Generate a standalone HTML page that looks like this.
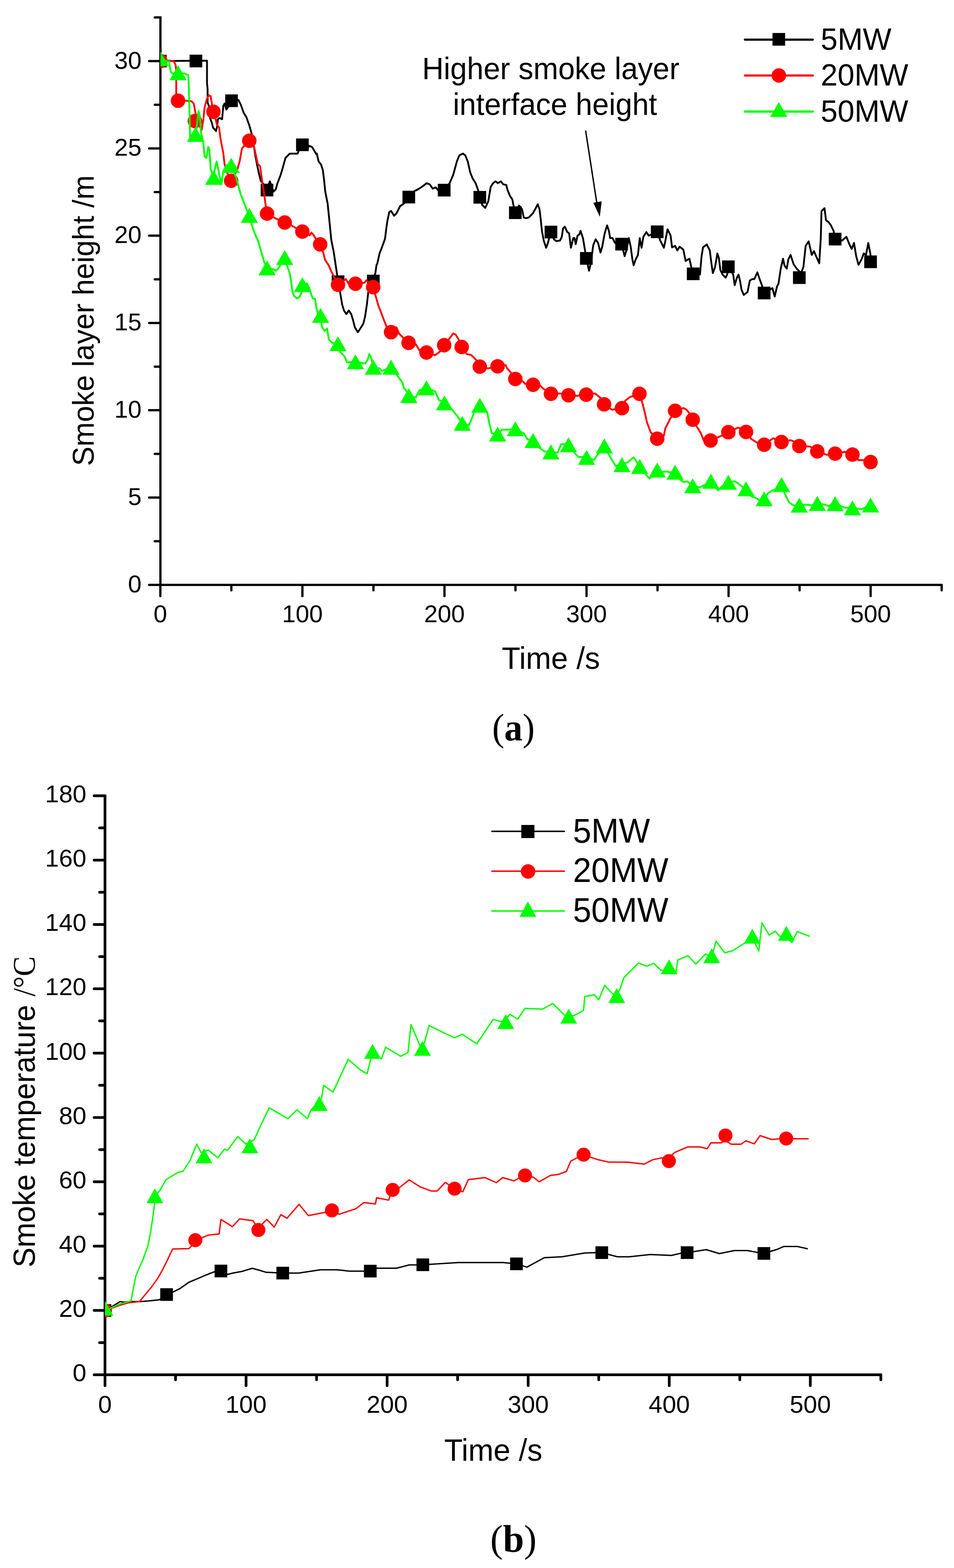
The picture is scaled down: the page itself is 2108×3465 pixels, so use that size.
<!DOCTYPE html><html><head><meta charset="utf-8"><title>Smoke layer height and temperature</title><style>html,body{margin:0;padding:0;background:#fff}svg{display:block}text{font-family:"Liberation Sans",Arial,sans-serif;fill:#000}.serif{font-family:"Liberation Serif","Times New Roman",serif}</style></head><body>
<svg width="2108" height="3465" viewBox="0 0 2108 3465">
<rect width="2108" height="3465" fill="#fff"/>
<defs><clipPath id="ca"><rect x="354.3" y="0" width="1800" height="1292"/></clipPath><clipPath id="cb"><rect x="232" y="1700" width="1800" height="1338"/></clipPath></defs>
<g id="plot-a">
<g stroke="#000" stroke-width="5" fill="none" stroke-linecap="round">
<path d="M354.5,38.5 V1292.4 H2078.5" stroke-linecap="square"/>
<line x1="329.5" y1="1292.4" x2="354.5" y2="1292.4"/>
<line x1="342.0" y1="1196.0" x2="354.5" y2="1196.0"/>
<line x1="329.5" y1="1099.5" x2="354.5" y2="1099.5"/>
<line x1="342.0" y1="1003.1" x2="354.5" y2="1003.1"/>
<line x1="329.5" y1="906.6" x2="354.5" y2="906.6"/>
<line x1="342.0" y1="810.2" x2="354.5" y2="810.2"/>
<line x1="329.5" y1="713.7" x2="354.5" y2="713.7"/>
<line x1="342.0" y1="617.3" x2="354.5" y2="617.3"/>
<line x1="329.5" y1="520.8" x2="354.5" y2="520.8"/>
<line x1="342.0" y1="424.4" x2="354.5" y2="424.4"/>
<line x1="329.5" y1="327.9" x2="354.5" y2="327.9"/>
<line x1="342.0" y1="231.5" x2="354.5" y2="231.5"/>
<line x1="329.5" y1="135.0" x2="354.5" y2="135.0"/>
<line x1="342.0" y1="38.6" x2="354.5" y2="38.6"/>
<line x1="354.3" y1="1292.4" x2="354.3" y2="1317.3"/>
<line x1="511.2" y1="1292.4" x2="511.2" y2="1304.5"/>
<line x1="668.2" y1="1292.4" x2="668.2" y2="1317.3"/>
<line x1="825.2" y1="1292.4" x2="825.2" y2="1304.5"/>
<line x1="982.1" y1="1292.4" x2="982.1" y2="1317.3"/>
<line x1="1139.0" y1="1292.4" x2="1139.0" y2="1304.5"/>
<line x1="1296.0" y1="1292.4" x2="1296.0" y2="1317.3"/>
<line x1="1452.9" y1="1292.4" x2="1452.9" y2="1304.5"/>
<line x1="1609.9" y1="1292.4" x2="1609.9" y2="1317.3"/>
<line x1="1766.8" y1="1292.4" x2="1766.8" y2="1304.5"/>
<line x1="1923.8" y1="1292.4" x2="1923.8" y2="1317.3"/>
<line x1="2080.8" y1="1292.4" x2="2080.8" y2="1304.5"/>
</g>
<g clip-path="url(#ca)">
<polyline fill="none" stroke-width="4" stroke-linejoin="round" stroke-linecap="round" stroke="#000000" points="354.3,135.0 457.4,134.0 457.4,183.4 458.7,196.7 458.7,226.1 461.4,234.1 464.1,260.8 468.1,271.5 470.8,282.1 477.4,289.6 480.1,276.8 481.4,263.4 485.4,260.8 490.8,263.4 493.4,234.1 496.1,228.8 500.1,242.1 504.1,236.8 510.8,223.4 526.8,220.8 532.1,231.4 538.8,250.1 544.1,258.1 550.8,276.8 556.1,295.5 560.1,316.8 564.1,343.5 568.2,364.8 572.2,383.5 576.2,399.5 582.8,407.5 589.5,418.2 596.2,400.9 600.2,410.2 604.2,423.6 609.5,418.2 612.2,407.5 620.2,386.2 624.2,372.9 630.9,348.8 640.2,339.5 657.5,339.5 660.2,332.8 668.2,319.5 678.9,330.2 682.9,322.2 689.6,324.8 698.9,340.8 700.0,339.4 704.0,356.7 709.3,363.4 713.3,375.4 716.0,396.8 718.7,423.4 724.0,450.1 726.7,476.8 729.4,503.5 732.0,530.2 737.4,556.9 741.4,583.6 745.4,610.2 749.4,631.6 752.0,648.7 756.0,672.7 760.0,686.1 765.4,694.1 770.7,686.1 776.1,694.1 780.1,707.4 784.1,723.4 790.7,734.1 796.1,726.1 802.7,715.4 806.7,699.4 810.7,672.7 813.4,648.7 817.4,619.4 824.9,618.0 829.4,603.4 832.1,584.7 833.4,583.6 838.8,559.5 844.1,546.2 850.8,527.5 853.4,506.2 856.1,487.5 860.1,468.8 864.1,466.1 870.8,476.8 876.1,471.5 884.1,455.5 892.1,450.1 903.3,435.5 916.1,422.1 924.1,418.1 932.2,412.8 942.8,404.8 949.5,407.4 956.2,416.8 962.8,414.1 968.2,420.8 981.5,420.2 993.5,404.8 1001.5,386.1 1009.5,356.7 1014.9,343.4 1022.9,339.4 1028.2,343.4 1033.6,356.7 1038.9,380.8 1044.2,394.1 1050.9,404.8 1057.6,423.4 1060.2,436.0 1065.6,452.8 1072.2,459.5 1078.9,444.8 1084.3,412.8 1089.6,404.8 1094.7,400.7 1100.0,404.7 1106.7,400.7 1112.0,407.4 1118.7,408.7 1121.4,419.4 1126.7,432.7 1132.0,440.7 1134.7,454.1 1138.7,470.1 1146.7,454.1 1153.4,462.1 1157.4,480.8 1162.7,482.1 1168.1,480.8 1172.1,476.8 1177.4,471.4 1182.7,462.1 1188.1,451.4 1192.1,462.1 1194.7,483.4 1197.4,510.1 1201.4,531.5 1206.8,547.5 1210.8,536.8 1216.1,515.4 1217.4,512.8 1224.1,528.8 1229.4,532.8 1237.4,531.5 1241.4,523.4 1244.1,504.8 1248.1,500.8 1253.4,512.8 1257.5,515.4 1261.5,547.5 1266.8,526.1 1269.5,526.1 1272.1,539.5 1276.1,520.8 1280.1,518.1 1282.8,510.1 1288.1,526.1 1293.5,558.1 1295.6,570.9 1301.5,598.2 1305.5,582.2 1310.8,542.1 1316.2,528.8 1321.5,536.8 1326.8,558.1 1330.8,544.8 1336.2,515.4 1341.5,498.1 1345.5,510.1 1348.2,526.1 1353.5,526.1 1358.9,536.8 1373.5,539.5 1380.2,566.1 1384.2,552.8 1389.5,526.1 1393.5,544.8 1397.5,574.1 1400.2,586.2 1404.2,574.1 1409.6,563.5 1413.6,526.1 1417.6,547.5 1421.6,523.4 1428.2,512.8 1433.6,520.8 1452.2,512.2 1458.9,531.5 1466.9,547.5 1470.0,533.4 1475.0,506.7 1481.7,520.1 1485.0,546.8 1491.7,543.4 1496.7,553.4 1501.7,545.1 1510.0,551.8 1515.0,576.8 1520.0,573.4 1523.4,571.8 1526.7,586.8 1531.7,605.1 1546.7,606.8 1550.1,566.8 1553.4,546.8 1561.7,540.1 1568.4,553.4 1571.7,580.1 1575.1,603.5 1580.1,590.1 1585.1,560.1 1588.4,570.1 1591.8,596.8 1596.8,606.8 1603.4,613.5 1606.8,606.8 1609.4,589.5 1620.1,606.8 1623.4,630.2 1628.4,613.5 1631.8,606.8 1635.1,620.1 1638.5,640.2 1643.5,651.8 1651.8,645.2 1656.8,620.1 1661.8,616.8 1666.8,616.8 1673.5,601.8 1678.5,616.8 1683.5,630.2 1688.5,647.5 1706.8,636.8 1711.8,655.2 1716.8,633.5 1720.2,626.8 1725.2,593.5 1730.2,571.8 1733.5,586.8 1738.5,593.5 1741.9,573.4 1746.9,563.4 1753.5,583.5 1760.2,593.5 1766.9,600.1 1766.2,613.5 1775.2,590.1 1780.2,543.4 1786.9,533.4 1793.6,563.4 1798.6,555.1 1803.6,566.8 1810.2,581.8 1813.6,526.8 1815.2,466.7 1821.9,460.0 1825.2,486.7 1830.2,490.1 1835.3,496.7 1841.9,510.1 1845.3,528.4 1860.3,531.8 1870.3,523.4 1876.9,540.1 1881.9,550.1 1887.0,536.8 1892.0,566.8 1897.0,585.1 1903.6,573.4 1908.6,560.1 1913.6,563.4 1918.6,536.8 1923.6,563.4 1923.6,578.5"/>
<rect x="340.3" y="121.0" width="28" height="28" fill="#000000"/>
<rect x="418.9" y="120.8" width="28" height="28" fill="#000000"/>
<rect x="497.6" y="208.6" width="28" height="28" fill="#000000"/>
<rect x="576.0" y="406.0" width="28" height="28" fill="#000000"/>
<rect x="654.2" y="306.0" width="28" height="28" fill="#000000"/>
<rect x="732.9" y="608.5" width="28" height="28" fill="#000000"/>
<rect x="810.9" y="607.0" width="28" height="28" fill="#000000"/>
<rect x="889.3" y="421.5" width="28" height="28" fill="#000000"/>
<rect x="967.5" y="406.2" width="28" height="28" fill="#000000"/>
<rect x="1046.2" y="422.0" width="28" height="28" fill="#000000"/>
<rect x="1124.7" y="456.1" width="28" height="28" fill="#000000"/>
<rect x="1203.4" y="498.8" width="28" height="28" fill="#000000"/>
<rect x="1281.6" y="557.0" width="28" height="28" fill="#000000"/>
<rect x="1359.5" y="525.5" width="28" height="28" fill="#000000"/>
<rect x="1438.2" y="498.2" width="28" height="28" fill="#000000"/>
<rect x="1517.7" y="591.1" width="28" height="28" fill="#000000"/>
<rect x="1595.4" y="575.5" width="28" height="28" fill="#000000"/>
<rect x="1674.5" y="633.5" width="28" height="28" fill="#000000"/>
<rect x="1752.2" y="599.5" width="28" height="28" fill="#000000"/>
<rect x="1831.3" y="514.4" width="28" height="28" fill="#000000"/>
<rect x="1909.6" y="564.5" width="28" height="28" fill="#000000"/>
<polyline fill="none" stroke-width="4" stroke-linejoin="round" stroke-linecap="round" stroke="#ff0000" points="354.3,135.0 372.0,134.0 384.0,135.4 388.0,143.4 389.4,156.7 389.4,207.4 393.4,222.6 409.4,222.6 422.7,223.4 428.1,228.8 432.1,250.1 434.7,268.8 440.1,276.8 445.4,287.5 449.4,263.4 452.1,236.8 457.4,218.1 461.4,210.1 465.4,212.7 468.1,228.8 470.8,247.4 476.1,260.8 478.8,274.1 484.1,282.1 486.8,303.5 490.8,324.8 493.4,338.2 496.1,362.2 500.1,378.2 510.8,399.5 524.1,375.5 529.5,356.8 534.8,327.5 550.8,310.9 561.5,324.8 565.5,343.5 569.5,362.2 574.8,367.5 578.8,396.9 582.8,423.6 585.5,442.2 589.5,471.6 590.1,472.0 604.1,480.1 616.1,486.1 629.1,491.7 644.1,498.1 654.1,504.1 668.1,511.7 684.1,520.1 688.1,514.1 692.1,518.1 698.1,528.1 707.6,540.1 714.2,558.1 718.2,574.1 726.2,586.1 732.2,600.1 738.2,612.1 746.8,629.8 764.0,616.7 770.7,627.4 785.4,627.4 805.4,624.7 809.4,619.4 814.7,624.7 824.6,634.9 830.8,656.7 836.1,675.4 841.4,688.8 849.4,710.1 854.8,723.4 864.1,734.1 876.1,723.4 881.5,736.8 892.1,747.5 902.8,757.6 918.8,760.8 926.8,774.1 942.3,779.0 961.5,784.8 972.2,776.8 981.5,762.7 993.5,747.5 1001.5,736.8 1006.9,739.5 1014.9,752.8 1020.2,766.7 1030.9,782.2 1041.6,784.8 1052.2,795.5 1060.2,810.2 1078.9,814.2 1097.6,808.8 1099.5,809.4 1117.4,806.7 1120.0,813.4 1129.4,824.0 1138.7,837.4 1154.7,842.7 1160.1,848.1 1177.9,850.2 1192.1,850.7 1200.1,858.7 1217.4,870.2 1237.4,869.4 1256.1,873.4 1274.8,874.7 1295.3,872.1 1314.8,869.4 1330.8,882.7 1334.8,893.4 1352.2,905.4 1374.3,902.0 1381.5,885.4 1392.2,877.4 1413.0,870.2 1418.9,888.1 1424.2,909.4 1429.6,933.4 1437.6,954.8 1452.2,969.5 1466.9,962.8 1470.0,946.8 1480.0,926.8 1491.7,907.7 1510.0,901.7 1516.7,905.1 1523.4,913.4 1530.7,927.4 1540.1,943.4 1548.4,956.8 1555.1,973.4 1570.1,973.4 1593.4,963.4 1609.4,955.1 1630.1,945.1 1636.8,946.8 1648.5,954.4 1660.1,970.1 1673.5,978.5 1688.5,982.8 1708.5,968.4 1726.8,976.8 1746.9,972.8 1753.5,975.1 1766.2,985.8 1790.2,986.8 1805.9,997.5 1826.9,1005.1 1845.3,1002.5 1866.9,998.5 1883.6,1004.5 1897.0,1016.8 1907.0,1016.8 1923.6,1021.1"/>
<circle cx="354.3" cy="135.0" r="16" fill="#ff0000"/>
<circle cx="393.4" cy="222.6" r="16" fill="#ff0000"/>
<circle cx="430.7" cy="267.5" r="16" fill="#ff0000"/>
<circle cx="471.6" cy="246.9" r="16" fill="#ff0000"/>
<circle cx="510.8" cy="399.5" r="16" fill="#ff0000"/>
<circle cx="550.8" cy="311.0" r="16" fill="#ff0000"/>
<circle cx="590.1" cy="472.0" r="16" fill="#ff0000"/>
<circle cx="629.1" cy="491.7" r="16" fill="#ff0000"/>
<circle cx="668.1" cy="511.7" r="16" fill="#ff0000"/>
<circle cx="707.5" cy="540.1" r="16" fill="#ff0000"/>
<circle cx="746.8" cy="629.3" r="16" fill="#ff0000"/>
<circle cx="785.4" cy="627.0" r="16" fill="#ff0000"/>
<circle cx="824.6" cy="634.6" r="16" fill="#ff0000"/>
<circle cx="864.1" cy="734.1" r="16" fill="#ff0000"/>
<circle cx="902.8" cy="757.6" r="16" fill="#ff0000"/>
<circle cx="942.3" cy="779.0" r="16" fill="#ff0000"/>
<circle cx="981.5" cy="762.7" r="16" fill="#ff0000"/>
<circle cx="1020.2" cy="766.7" r="16" fill="#ff0000"/>
<circle cx="1060.2" cy="810.2" r="16" fill="#ff0000"/>
<circle cx="1099.5" cy="809.4" r="16" fill="#ff0000"/>
<circle cx="1138.7" cy="837.4" r="16" fill="#ff0000"/>
<circle cx="1177.9" cy="850.2" r="16" fill="#ff0000"/>
<circle cx="1217.4" cy="870.2" r="16" fill="#ff0000"/>
<circle cx="1256.1" cy="873.4" r="16" fill="#ff0000"/>
<circle cx="1295.3" cy="872.1" r="16" fill="#ff0000"/>
<circle cx="1334.8" cy="893.4" r="16" fill="#ff0000"/>
<circle cx="1374.3" cy="902.0" r="16" fill="#ff0000"/>
<circle cx="1413.0" cy="870.2" r="16" fill="#ff0000"/>
<circle cx="1452.2" cy="969.5" r="16" fill="#ff0000"/>
<circle cx="1491.7" cy="907.7" r="16" fill="#ff0000"/>
<circle cx="1530.7" cy="927.4" r="16" fill="#ff0000"/>
<circle cx="1570.1" cy="973.4" r="16" fill="#ff0000"/>
<circle cx="1609.4" cy="955.1" r="16" fill="#ff0000"/>
<circle cx="1648.5" cy="954.4" r="16" fill="#ff0000"/>
<circle cx="1688.5" cy="982.8" r="16" fill="#ff0000"/>
<circle cx="1726.8" cy="976.8" r="16" fill="#ff0000"/>
<circle cx="1766.2" cy="985.8" r="16" fill="#ff0000"/>
<circle cx="1805.9" cy="997.5" r="16" fill="#ff0000"/>
<circle cx="1845.3" cy="1002.5" r="16" fill="#ff0000"/>
<circle cx="1883.6" cy="1004.5" r="16" fill="#ff0000"/>
<circle cx="1923.6" cy="1021.1" r="16" fill="#ff0000"/>
<polyline fill="none" stroke-width="4" stroke-linejoin="round" stroke-linecap="round" stroke="#00ff00" points="354.3,130.0 361.3,134.0 373.4,135.4 377.4,159.4 381.4,162.0 393.4,163.4 406.7,162.0 416.1,166.1 417.4,196.7 418.7,250.1 420.1,303.5 422.7,311.5 432.1,300.8 433.4,292.8 438.7,244.8 441.4,255.4 444.1,292.8 446.7,303.5 449.4,316.8 452.1,346.2 456.1,348.8 460.1,324.8 462.7,330.2 465.4,372.9 470.8,388.9 478.8,356.8 484.1,383.5 489.4,407.5 493.4,378.2 500.1,364.8 510.8,367.5 521.5,391.5 532.0,430.0 540.0,450.0 546.0,466.0 551.0,476.1 556.1,496.1 562.1,514.1 570.1,532.1 576.1,552.1 584.1,580.1 590.1,591.1 604.1,595.1 610.1,598.1 616.1,592.1 620.1,584.1 629.1,569.1 634.1,586.1 640.1,604.1 643.1,620.1 646.1,644.2 650.1,654.2 656.1,659.2 662.1,656.2 667.1,644.2 668.1,629.2 678.1,626.2 684.1,638.2 688.1,652.2 692.1,660.2 696.1,660.2 699.1,680.2 702.1,692.2 709.3,702.1 710.7,720.8 717.3,731.5 722.7,726.1 726.7,750.1 734.7,758.1 746.7,759.5 750.7,776.8 756.0,782.2 761.4,787.5 766.7,800.8 785.4,799.5 806.7,803.5 812.1,795.5 816.1,782.2 820.1,790.2 824.1,806.2 824.9,811.5 838.8,814.2 844.1,819.5 864.1,811.5 876.1,827.5 884.1,838.2 889.5,846.2 892.1,856.9 898.8,864.9 903.3,874.2 918.8,878.2 926.8,862.2 942.3,856.9 961.5,864.9 969.5,883.6 982.1,890.2 998.9,904.9 1009.5,918.2 1021.5,935.6 1036.2,939.6 1044.2,920.9 1049.6,904.9 1060.2,895.6 1076.3,910.2 1081.6,936.9 1086.7,957.5 1099.5,959.3 1109.4,949.5 1122.7,949.5 1138.7,947.6 1157.4,957.5 1165.4,970.8 1177.9,973.5 1192.1,989.5 1202.7,997.5 1217.4,998.8 1232.1,1000.2 1240.1,981.5 1245.4,981.5 1256.1,982.8 1269.5,1000.2 1277.5,1009.5 1296.1,1010.8 1312.2,1016.2 1320.2,1005.5 1335.4,985.5 1344.2,1002.8 1352.2,1016.2 1360.2,1029.5 1374.3,1026.8 1386.9,1021.5 1400.2,1010.8 1405.6,1018.8 1413.6,1030.8 1426.9,1048.2 1434.9,1057.5 1440.2,1053.5 1452.2,1038.9 1464.3,1042.9 1474.9,1041.5 1476.7,1043.5 1491.7,1043.5 1503.4,1060.2 1510.0,1065.2 1518.4,1063.5 1530.7,1073.5 1546.7,1076.9 1560.1,1070.2 1570.7,1063.5 1586.8,1083.5 1596.8,1073.5 1609.4,1065.8 1623.4,1063.5 1633.4,1070.2 1641.8,1076.9 1648.5,1080.2 1660.1,1096.9 1670.1,1100.2 1680.1,1106.9 1688.5,1102.2 1696.8,1090.2 1706.8,1083.5 1720.2,1081.9 1726.8,1070.8 1733.5,1090.2 1743.5,1110.2 1753.5,1116.9 1766.2,1116.2 1783.5,1115.2 1793.6,1116.9 1805.9,1112.5 1823.6,1115.2 1830.2,1118.5 1845.3,1112.9 1866.9,1121.9 1883.6,1122.2 1903.6,1125.2 1923.6,1115.9"/>
<polygon points="354.3,113.5 373.3,146.5 335.3,146.5" fill="#00ff00"/>
<polygon points="393.4,144.2 412.4,177.2 374.4,177.2" fill="#00ff00"/>
<polygon points="432.0,280.5 451.0,313.5 413.0,313.5" fill="#00ff00"/>
<polygon points="472.0,375.5 491.0,408.5 453.0,408.5" fill="#00ff00"/>
<polygon points="510.8,349.0 529.8,382.0 491.8,382.0" fill="#00ff00"/>
<polygon points="551.0,459.5 570.0,492.5 532.0,492.5" fill="#00ff00"/>
<polygon points="590.1,575.6 609.1,608.6 571.1,608.6" fill="#00ff00"/>
<polygon points="629.1,552.6 648.1,585.6 610.1,585.6" fill="#00ff00"/>
<polygon points="668.1,612.6 687.1,645.6 649.1,645.6" fill="#00ff00"/>
<polygon points="708.2,680.5 727.2,713.5 689.2,713.5" fill="#00ff00"/>
<polygon points="746.7,743.0 765.7,776.0 727.7,776.0" fill="#00ff00"/>
<polygon points="785.4,783.0 804.4,816.0 766.4,816.0" fill="#00ff00"/>
<polygon points="824.9,795.0 843.9,828.0 805.9,828.0" fill="#00ff00"/>
<polygon points="864.1,795.0 883.1,828.0 845.1,828.0" fill="#00ff00"/>
<polygon points="903.3,857.7 922.3,890.7 884.3,890.7" fill="#00ff00"/>
<polygon points="942.3,840.4 961.3,873.4 923.3,873.4" fill="#00ff00"/>
<polygon points="982.1,873.7 1001.1,906.7 963.1,906.7" fill="#00ff00"/>
<polygon points="1021.5,919.1 1040.5,952.1 1002.5,952.1" fill="#00ff00"/>
<polygon points="1060.2,879.1 1079.2,912.1 1041.2,912.1" fill="#00ff00"/>
<polygon points="1099.5,942.8 1118.5,975.8 1080.5,975.8" fill="#00ff00"/>
<polygon points="1138.7,931.1 1157.7,964.1 1119.7,964.1" fill="#00ff00"/>
<polygon points="1177.9,957.0 1196.9,990.0 1158.9,990.0" fill="#00ff00"/>
<polygon points="1217.4,982.3 1236.4,1015.3 1198.4,1015.3" fill="#00ff00"/>
<polygon points="1256.1,966.3 1275.1,999.3 1237.1,999.3" fill="#00ff00"/>
<polygon points="1296.1,994.3 1315.1,1027.3 1277.1,1027.3" fill="#00ff00"/>
<polygon points="1335.4,969.0 1354.4,1002.0 1316.4,1002.0" fill="#00ff00"/>
<polygon points="1374.3,1010.3 1393.3,1043.3 1355.3,1043.3" fill="#00ff00"/>
<polygon points="1413.5,1014.3 1432.5,1047.3 1394.5,1047.3" fill="#00ff00"/>
<polygon points="1452.2,1022.3 1471.2,1055.3 1433.2,1055.3" fill="#00ff00"/>
<polygon points="1491.7,1027.0 1510.7,1060.0 1472.7,1060.0" fill="#00ff00"/>
<polygon points="1530.7,1057.0 1549.7,1090.0 1511.7,1090.0" fill="#00ff00"/>
<polygon points="1570.7,1047.0 1589.7,1080.0 1551.7,1080.0" fill="#00ff00"/>
<polygon points="1609.4,1049.3 1628.4,1082.3 1590.4,1082.3" fill="#00ff00"/>
<polygon points="1648.5,1063.7 1667.5,1096.7 1629.5,1096.7" fill="#00ff00"/>
<polygon points="1688.5,1085.7 1707.5,1118.7 1669.5,1118.7" fill="#00ff00"/>
<polygon points="1726.8,1054.3 1745.8,1087.3 1707.8,1087.3" fill="#00ff00"/>
<polygon points="1766.2,1099.7 1785.2,1132.7 1747.2,1132.7" fill="#00ff00"/>
<polygon points="1805.9,1096.0 1824.9,1129.0 1786.9,1129.0" fill="#00ff00"/>
<polygon points="1845.3,1096.4 1864.3,1129.4 1826.3,1129.4" fill="#00ff00"/>
<polygon points="1883.6,1105.7 1902.6,1138.7 1864.6,1138.7" fill="#00ff00"/>
<polygon points="1923.6,1099.4 1942.6,1132.4 1904.6,1132.4" fill="#00ff00"/>
</g>
<g font-size="54">
<text x="312.8" y="1308.9" text-anchor="end">0</text>
<text x="312.8" y="1116.0" text-anchor="end">5</text>
<text x="312.8" y="923.1" text-anchor="end">10</text>
<text x="312.8" y="730.2" text-anchor="end">15</text>
<text x="312.8" y="537.3" text-anchor="end">20</text>
<text x="312.8" y="344.4" text-anchor="end">25</text>
<text x="312.8" y="151.5" text-anchor="end">30</text>
<text x="354.3" y="1375" text-anchor="middle">0</text>
<text x="668.2" y="1375" text-anchor="middle">100</text>
<text x="982.1" y="1375" text-anchor="middle">200</text>
<text x="1296.0" y="1375" text-anchor="middle">300</text>
<text x="1609.9" y="1375" text-anchor="middle">400</text>
<text x="1923.8" y="1375" text-anchor="middle">500</text>
</g>
<text transform="translate(1108.7,1478.0) scale(1,1.020)" font-size="67">Time /s</text>
<text transform="translate(206.6,1029.7) rotate(-90) scale(1,1.045)" font-size="64.6">Smoke layer height /m</text>
<text class="serif" transform="translate(1134.5,1636) scale(0.96,1)" font-size="84" text-anchor="middle">(<tspan font-weight="bold">a</tspan>)</text>
<g stroke-width="4.9" stroke-linecap="round">
<line x1="1646" y1="87.6" x2="1796" y2="87.6" stroke="#000000"/>
<line x1="1646" y1="166.9" x2="1796" y2="166.9" stroke="#ff0000"/>
<line x1="1646" y1="246.5" x2="1796" y2="246.5" stroke="#00ff00"/>
</g>
<rect x="1706.9" y="72.9" width="28" height="28" fill="#000000"/>
<circle cx="1721.0" cy="166.8" r="16" fill="#ff0000"/>
<polygon points="1720.9,225.5 1739.9,258.5 1701.9,258.5" fill="#00ff00"/>
<g font-size="67">
<text transform="translate(1813.5,110.0) scale(1,1.020)" font-size="67">5MW</text><text transform="translate(1813.5,189.0) scale(1,1.020)" font-size="67">20MW</text><text transform="translate(1813.5,269.0) scale(1,1.020)" font-size="67">50MW</text>
</g>
<text transform="translate(932.7,175.0) scale(1,1.030)" font-size="66">Higher smoke layer</text><text transform="translate(1000.7,253.5) scale(1,1.030)" font-size="66">interface height</text>
<line x1="1294" y1="288.5" x2="1318.5" y2="447" stroke="#000" stroke-width="3"/>
<polygon points="1311,448 1329.5,445 1325.4,479" fill="#000"/>
</g>
<g id="plot-b">
<g stroke="#000" stroke-width="6" fill="none" stroke-linecap="round">
<path d="M232,1759 V3038 H1945.6" stroke-linecap="square"/>
<line x1="208.0" y1="3038.0" x2="232" y2="3038.0"/>
<line x1="220.0" y1="2966.9" x2="232" y2="2966.9"/>
<line x1="208.0" y1="2895.8" x2="232" y2="2895.8"/>
<line x1="220.0" y1="2824.8" x2="232" y2="2824.8"/>
<line x1="208.0" y1="2753.7" x2="232" y2="2753.7"/>
<line x1="220.0" y1="2682.6" x2="232" y2="2682.6"/>
<line x1="208.0" y1="2611.5" x2="232" y2="2611.5"/>
<line x1="220.0" y1="2540.4" x2="232" y2="2540.4"/>
<line x1="208.0" y1="2469.4" x2="232" y2="2469.4"/>
<line x1="220.0" y1="2398.3" x2="232" y2="2398.3"/>
<line x1="208.0" y1="2327.2" x2="232" y2="2327.2"/>
<line x1="220.0" y1="2256.1" x2="232" y2="2256.1"/>
<line x1="208.0" y1="2185.0" x2="232" y2="2185.0"/>
<line x1="220.0" y1="2114.0" x2="232" y2="2114.0"/>
<line x1="208.0" y1="2042.9" x2="232" y2="2042.9"/>
<line x1="220.0" y1="1971.8" x2="232" y2="1971.8"/>
<line x1="208.0" y1="1900.7" x2="232" y2="1900.7"/>
<line x1="220.0" y1="1829.6" x2="232" y2="1829.6"/>
<line x1="208.0" y1="1758.6" x2="232" y2="1758.6"/>
<line x1="232.0" y1="3038" x2="232.0" y2="3062.0"/>
<line x1="387.9" y1="3038" x2="387.9" y2="3049.0"/>
<line x1="543.7" y1="3038" x2="543.7" y2="3062.0"/>
<line x1="699.5" y1="3038" x2="699.5" y2="3049.0"/>
<line x1="855.4" y1="3038" x2="855.4" y2="3062.0"/>
<line x1="1011.2" y1="3038" x2="1011.2" y2="3049.0"/>
<line x1="1167.1" y1="3038" x2="1167.1" y2="3062.0"/>
<line x1="1323.0" y1="3038" x2="1323.0" y2="3049.0"/>
<line x1="1478.8" y1="3038" x2="1478.8" y2="3062.0"/>
<line x1="1634.7" y1="3038" x2="1634.7" y2="3049.0"/>
<line x1="1790.5" y1="3038" x2="1790.5" y2="3062.0"/>
<line x1="1946.3" y1="3038" x2="1946.3" y2="3049.0"/>
</g>
<g clip-path="url(#cb)">
<polyline fill="none" stroke-width="3" stroke-linejoin="round" stroke-linecap="round" stroke="#000000" points="232.0,2896.0 233.3,2904.2 244.0,2889.5 254.7,2882.9 265.4,2876.2 273.4,2877.5 289.4,2876.2 308.1,2876.2 326.7,2874.9 352.1,2872.2 368.1,2860.7 382.8,2854.8 398.8,2846.8 417.5,2833.5 433.5,2826.8 452.2,2818.8 465.5,2813.5 476.2,2809.5 488.2,2808.7 502.9,2816.2 513.5,2813.5 534.9,2809.5 557.6,2802.8 572.2,2806.8 588.2,2811.6 600.0,2812.1 624.8,2813.3 660.0,2813.3 708.1,2806.1 744.1,2806.1 772.1,2808.9 804.1,2808.9 818.1,2805.7 832.2,2802.5 876.2,2802.5 904.2,2795.3 934.2,2794.9 1012.3,2790.1 1112.3,2790.1 1141.2,2792.9 1164.4,2800.1 1202.7,2779.3 1242.0,2777.2 1291.7,2768.9 1316.5,2768.1 1329.7,2768.1 1364.1,2777.2 1390.9,2777.2 1436.4,2772.2 1484.0,2774.3 1506.8,2768.9 1518.3,2768.1 1560.5,2761.5 1589.5,2770.2 1622.6,2763.5 1651.5,2763.5 1676.3,2768.1 1687.9,2769.8 1717.7,2760.7 1732.2,2754.4 1761.1,2754.4 1783.9,2759.4"/>
<rect x="218.0" y="2882.0" width="28" height="28" fill="#000000"/>
<rect x="354.1" y="2846.7" width="28" height="28" fill="#000000"/>
<rect x="474.2" y="2794.7" width="28" height="28" fill="#000000"/>
<rect x="610.8" y="2799.3" width="28" height="28" fill="#000000"/>
<rect x="804.2" y="2794.9" width="28" height="28" fill="#000000"/>
<rect x="920.3" y="2780.9" width="28" height="28" fill="#000000"/>
<rect x="1127.2" y="2778.9" width="28" height="28" fill="#000000"/>
<rect x="1315.7" y="2754.1" width="28" height="28" fill="#000000"/>
<rect x="1504.3" y="2754.1" width="28" height="28" fill="#000000"/>
<rect x="1673.9" y="2755.8" width="28" height="28" fill="#000000"/>
<polyline fill="none" stroke-width="3" stroke-linejoin="round" stroke-linecap="round" stroke="#ff0000" points="232.0,2896.0 233.3,2904.2 246.7,2890.9 265.4,2884.2 284.0,2878.9 308.1,2876.2 321.4,2860.2 334.7,2844.2 348.1,2825.5 358.8,2806.8 369.4,2785.5 381.4,2760.1 417.5,2759.3 422.8,2753.4 431.6,2740.6 446.8,2734.8 460.2,2729.4 484.2,2726.8 488.2,2694.7 513.5,2710.8 529.5,2693.4 558.9,2697.4 564.2,2705.4 570.9,2718.0 578.9,2705.4 589.6,2694.7 605.9,2711.6 620.8,2684.1 634.2,2692.1 660.8,2661.4 681.4,2686.3 717.4,2679.3 733.4,2676.1 749.4,2683.3 786.8,2670.8 804.1,2657.4 829.5,2660.6 832.2,2646.8 858.8,2652.1 861.5,2644.1 867.6,2633.4 882.9,2624.1 904.2,2607.3 928.2,2622.7 953.6,2632.1 965.6,2632.1 984.0,2612.7 990.7,2617.5 1004.5,2626.8 1022.7,2633.5 1034.7,2606.8 1052.0,2604.7 1072.1,2602.3 1096.6,2613.5 1110.8,2602.3 1136.1,2609.5 1145.4,2604.1 1160.1,2597.5 1178.8,2601.5 1191.3,2611.6 1216.2,2597.5 1233.5,2595.3 1251.6,2588.6 1261.0,2566.0 1273.5,2559.3 1289.5,2551.6 1305.6,2557.4 1321.6,2562.8 1345.6,2568.1 1387.9,2568.2 1423.1,2572.6 1442.2,2562.9 1459.8,2559.1 1478.0,2558.5 1490.6,2546.8 1520.0,2534.4 1546.4,2534.4 1562.5,2538.5 1570.8,2525.6 1593.4,2525.6 1603.0,2520.3 1615.4,2528.6 1637.4,2528.6 1648.2,2520.9 1666.7,2527.7 1679.4,2509.5 1704.9,2518.0 1721.0,2516.8 1737.2,2516.5 1785.6,2516.5"/>
<circle cx="232.0" cy="2896.0" r="15.5" fill="#ff0000"/>
<circle cx="431.6" cy="2740.6" r="15.5" fill="#ff0000"/>
<circle cx="570.9" cy="2718.0" r="15.5" fill="#ff0000"/>
<circle cx="733.4" cy="2674.8" r="15.5" fill="#ff0000"/>
<circle cx="867.6" cy="2629.4" r="15.5" fill="#ff0000"/>
<circle cx="1004.5" cy="2626.8" r="15.5" fill="#ff0000"/>
<circle cx="1160.1" cy="2597.5" r="15.5" fill="#ff0000"/>
<circle cx="1289.5" cy="2551.6" r="15.5" fill="#ff0000"/>
<circle cx="1478.0" cy="2565.8" r="15.5" fill="#ff0000"/>
<circle cx="1603.0" cy="2509.2" r="15.5" fill="#ff0000"/>
<circle cx="1737.2" cy="2515.9" r="15.5" fill="#ff0000"/>
<polyline fill="none" stroke-width="3" stroke-linejoin="round" stroke-linecap="round" stroke="#00ff00" points="232.0,2896.0 233.3,2898.9 246.7,2889.5 265.4,2881.5 289.4,2874.9 294.7,2846.8 300.1,2820.2 305.4,2806.8 316.1,2782.8 326.7,2753.4 332.1,2726.8 337.4,2692.1 341.4,2660.1 342.2,2644.0 353.4,2630.7 366.8,2606.7 380.1,2598.7 393.4,2590.7 404.0,2588.7 420.0,2564.2 434.7,2528.2 444.0,2546.8 460.1,2541.5 481.4,2558.3 496.1,2539.4 502.7,2542.3 525.4,2511.6 542.8,2528.2 561.5,2518.8 577.5,2484.1 594.8,2448.1 636.2,2472.1 656.2,2452.6 679.4,2472.1 686.9,2453.4 710.9,2425.4 714.9,2398.2 735.7,2413.4 769.3,2340.9 796.0,2364.1 811.2,2372.7 823.2,2324.1 842.7,2340.1 852.1,2314.2 885.4,2334.2 901.4,2326.0 908.1,2264.3 928.1,2310.8 937.5,2305.4 948.1,2266.2 981.5,2282.7 1004.2,2293.4 1021.5,2285.4 1053.5,2306.8 1089.6,2252.6 1106.9,2257.4 1117.6,2252.0 1126.9,2241.4 1144.0,2252.2 1160.0,2228.2 1174.7,2229.0 1198.7,2230.0 1221.4,2217.5 1246.7,2242.8 1256.6,2245.5 1268.1,2244.2 1289.4,2233.0 1292.1,2202.3 1313.4,2198.0 1322.8,2209.5 1336.1,2177.5 1353.5,2196.1 1362.8,2200.1 1369.5,2186.8 1378.8,2160.1 1410.8,2128.1 1429.5,2135.3 1444.2,2128.6 1460.2,2144.1 1478.4,2144.1 1493.6,2149.4 1497.6,2121.4 1520.3,2111.9 1537.4,2130.5 1558.7,2108.1 1564.0,2111.3 1572.6,2112.4 1576.9,2099.5 1582.2,2079.9 1601.4,2105.5 1619.5,2100.6 1645.2,2084.2 1662.2,2073.9 1668.6,2085.7 1676.8,2101.3 1679.3,2077.1 1683.6,2039.3 1699.6,2066.5 1713.5,2057.9 1722.0,2068.6 1737.6,2071.8 1749.8,2082.5 1761.5,2058.6 1788.2,2068.6"/>
<polygon points="232.0,2874.5 250.5,2907.5 213.5,2907.5" fill="#00ff00"/>
<polygon points="342.2,2625.7 360.7,2658.7 323.7,2658.7" fill="#00ff00"/>
<polygon points="450.7,2537.8 469.2,2570.8 432.2,2570.8" fill="#00ff00"/>
<polygon points="552.1,2515.4 570.6,2548.4 533.6,2548.4" fill="#00ff00"/>
<polygon points="705.5,2422.0 724.0,2455.0 687.0,2455.0" fill="#00ff00"/>
<polygon points="823.2,2306.8 841.7,2339.8 804.7,2339.8" fill="#00ff00"/>
<polygon points="933.4,2299.9 951.9,2332.9 914.9,2332.9" fill="#00ff00"/>
<polygon points="1117.6,2240.9 1136.1,2273.9 1099.1,2273.9" fill="#00ff00"/>
<polygon points="1256.6,2229.0 1275.1,2262.0 1238.1,2262.0" fill="#00ff00"/>
<polygon points="1362.8,2183.6 1381.3,2216.6 1344.3,2216.6" fill="#00ff00"/>
<polygon points="1478.4,2120.1 1496.9,2153.1 1459.9,2153.1" fill="#00ff00"/>
<polygon points="1572.6,2095.4 1591.1,2128.4 1554.1,2128.4" fill="#00ff00"/>
<polygon points="1662.3,2052.3 1680.8,2085.3 1643.8,2085.3" fill="#00ff00"/>
<polygon points="1737.6,2045.9 1756.1,2078.9 1719.1,2078.9" fill="#00ff00"/>
</g>
<g font-size="54.5">
<text x="190.8" y="3052.3" text-anchor="end">0</text>
<text x="190.8" y="2910.1" text-anchor="end">20</text>
<text x="190.8" y="2768.0" text-anchor="end">40</text>
<text x="190.8" y="2625.8" text-anchor="end">60</text>
<text x="190.8" y="2483.7" text-anchor="end">80</text>
<text x="190.8" y="2341.5" text-anchor="end">100</text>
<text x="190.8" y="2199.3" text-anchor="end">120</text>
<text x="190.8" y="2057.2" text-anchor="end">140</text>
<text x="190.8" y="1915.0" text-anchor="end">160</text>
<text x="190.8" y="1772.9" text-anchor="end">180</text>
<text x="232.0" y="3122" text-anchor="middle">0</text>
<text x="543.7" y="3122" text-anchor="middle">100</text>
<text x="855.4" y="3122" text-anchor="middle">200</text>
<text x="1167.1" y="3122" text-anchor="middle">300</text>
<text x="1478.8" y="3122" text-anchor="middle">400</text>
<text x="1790.5" y="3122" text-anchor="middle">500</text>
</g>
<text transform="translate(981.4,3228.2) scale(1,1.020)" font-size="67">Time /s</text>
<text transform="translate(77.0,2800.8) rotate(-90) scale(1,1.045)" font-size="66.1">Smoke temperature <tspan class="serif">/°C</tspan></text>
<text class="serif" x="1134.5" y="3429" font-size="84" text-anchor="middle">(<tspan font-weight="bold">b</tspan>)</text>
<g stroke-width="3.2" stroke-linecap="round">
<line x1="1087" y1="1837.2" x2="1247" y2="1837.2" stroke="#000000"/>
<line x1="1087" y1="1925.2" x2="1247" y2="1925.2" stroke="#ff0000"/>
<line x1="1087" y1="2013.2" x2="1247" y2="2013.2" stroke="#00ff00"/>
</g>
<rect x="1151.9" y="1823.0" width="29" height="29" fill="#000000"/>
<circle cx="1166.8" cy="1925.8" r="16" fill="#ff0000"/>
<polygon points="1166.4,1992.0 1184.9,2026.0 1147.9,2026.0" fill="#00ff00"/>
<text transform="translate(1266.0,1862.3) scale(1,1.035)" font-size="73">5MW</text><text transform="translate(1266.0,1949.3) scale(1,1.035)" font-size="73">20MW</text><text transform="translate(1266.0,2037.3) scale(1,1.035)" font-size="73">50MW</text>
</g>
</svg></body></html>
